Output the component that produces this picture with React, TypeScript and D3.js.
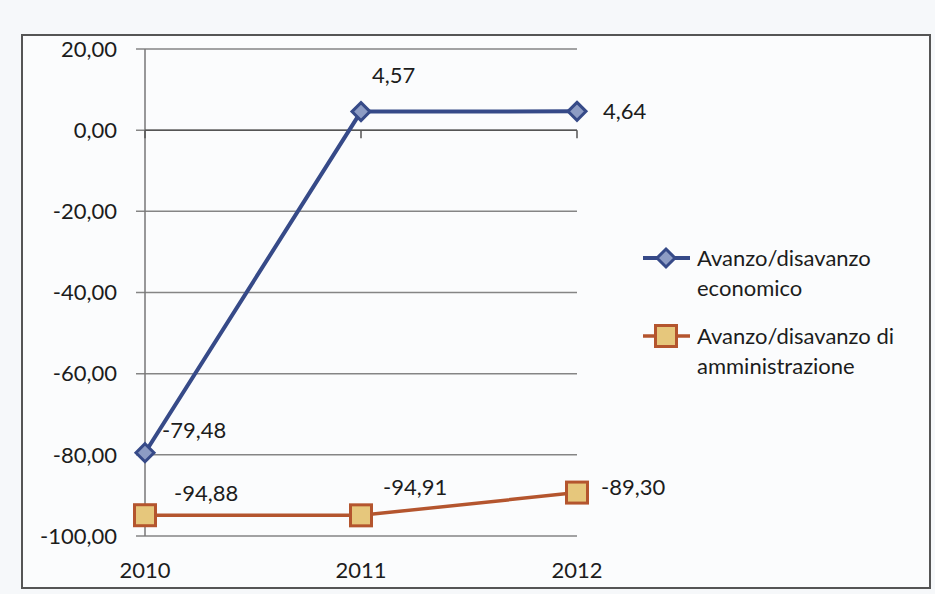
import React from 'react';
import * as d3 from 'd3';

const years = ['2010', '2011', '2012'];
const economico = [-79.48, 4.57, 4.64];
const amministrazione = [-94.88, -94.91, -89.3];
const yTicks = [20, 0, -20, -40, -60, -80, -100];
const seriesNames = [
  ['Avanzo/disavanzo', 'economico'],
  ['Avanzo/disavanzo di', 'amministrazione'],
];

const W = 935;
const H = 594;
const FONT = 'Lato, "Noto Sans", sans-serif';
const FS = 22;

const fmt = (v: number) => v.toFixed(2).replace('.', ',');

const App: React.FC = () => {
  const x = d3.scalePoint<string>().domain(years).range([145, 577]);
  const y = d3.scaleLinear().domain([-100, 20]).range([536, 49]);

  const line = d3.line<number>()
    .x((_, i) => x(years[i]) as number)
    .y(d => y(d));

  const blue = '#364a88';
  const orange = '#b4552e';
  const sqFill = '#e6c77c';
  const ink = '#1c1c1c';

  // label offsets, [dx, dy] relative to the point
  const ecoLabelPos = [[17, -22], [11, -36], [26, 0]];
  const ammLabelPos = [[29, -22], [22, -28], [24, -5]];

  const diamond = (cx: number, cy: number, k: string) => (
    <path key={k} d={`M${cx},${cy - 9} L${cx + 9},${cy} L${cx},${cy + 9} L${cx - 9},${cy} Z`}
      fill="#8d9cc4" stroke={blue} strokeWidth={3} />
  );
  const square = (cx: number, cy: number, k: string) => (
    <rect key={k} x={cx - 10.5} y={cy - 10.5} width={21} height={21}
      fill={sqFill} stroke={orange} strokeWidth={3} />
  );

  return (
    <svg width={W} height={H} style={{ position: 'absolute', left: 0, top: 0 }}
      fontFamily={FONT}>
      <rect x={0} y={0} width={W} height={H} fill="#f6f8fa" />
      <rect x={22} y={35} width={908} height={553} fill="#fbfcfd" stroke="#555" strokeWidth={2} />

      {/* grid */}
      {yTicks.map(t => (
        <g key={t}>
          <line x1={136} x2={577} y1={y(t)} y2={y(t)} stroke="#858585" strokeWidth={1.5} />
          <text x={117} y={y(t)} dy="0.35em" textAnchor="end" fontSize={FS} fill={ink}>{fmt(t)}</text>
        </g>
      ))}
      <line x1={145} x2={145} y1={y(20)} y2={y(-100)} stroke="#777" strokeWidth={1.5} />
      {/* horizontal axis at zero with ticks */}
      <line x1={145} x2={577} y1={y(0)} y2={y(0)} stroke="#555" strokeWidth={1.5} />
      {years.map(yr => (
        <line key={yr} x1={x(yr)} x2={x(yr)} y1={y(0)} y2={y(0) + 8} stroke="#555" strokeWidth={1.5} />
      ))}
      {years.map(yr => (
        <text key={yr} x={x(yr)} y={570} dy="0.35em" textAnchor="middle" fontSize={FS} fill={ink}>{yr}</text>
      ))}

      {/* series */}
      <path d={line(amministrazione) || ''} fill="none" stroke={orange} strokeWidth={3.5} />
      <path d={line(economico) || ''} fill="none" stroke={blue} strokeWidth={4} />
      {economico.map((v, i) => diamond(x(years[i]) as number, y(v), 'e' + i))}
      {amministrazione.map((v, i) => square(x(years[i]) as number, y(v), 'a' + i))}

      {economico.map((v, i) => (
        <text key={'le' + i} x={(x(years[i]) as number) + ecoLabelPos[i][0]} y={y(v) + ecoLabelPos[i][1]}
          dy="0.35em" fontSize={FS} fill={ink}>{fmt(v)}</text>
      ))}
      {amministrazione.map((v, i) => (
        <text key={'la' + i} x={(x(years[i]) as number) + ammLabelPos[i][0]} y={y(v) + ammLabelPos[i][1]}
          dy="0.35em" fontSize={FS} fill={ink}>{fmt(v)}</text>
      ))}

      {/* legend */}
      <g>
        <line x1={643} x2={690} y1={258} y2={258} stroke={blue} strokeWidth={4} />
        {diamond(666, 258, 'ld')}
        <text x={697} y={258} dy="0.35em" fontSize={FS} fill={ink}>{seriesNames[0][0]}</text>
        <text x={697} y={288} dy="0.35em" fontSize={FS} fill={ink}>{seriesNames[0][1]}</text>
        <line x1={643} x2={690} y1={336} y2={336} stroke={orange} strokeWidth={3.5} />
        {square(666, 336, 'ls')}
        <text x={697} y={336} dy="0.35em" fontSize={FS} fill={ink}>{seriesNames[1][0]}</text>
        <text x={697} y={366} dy="0.35em" fontSize={FS} fill={ink}>{seriesNames[1][1]}</text>
      </g>
    </svg>
  );
};

export default App;
